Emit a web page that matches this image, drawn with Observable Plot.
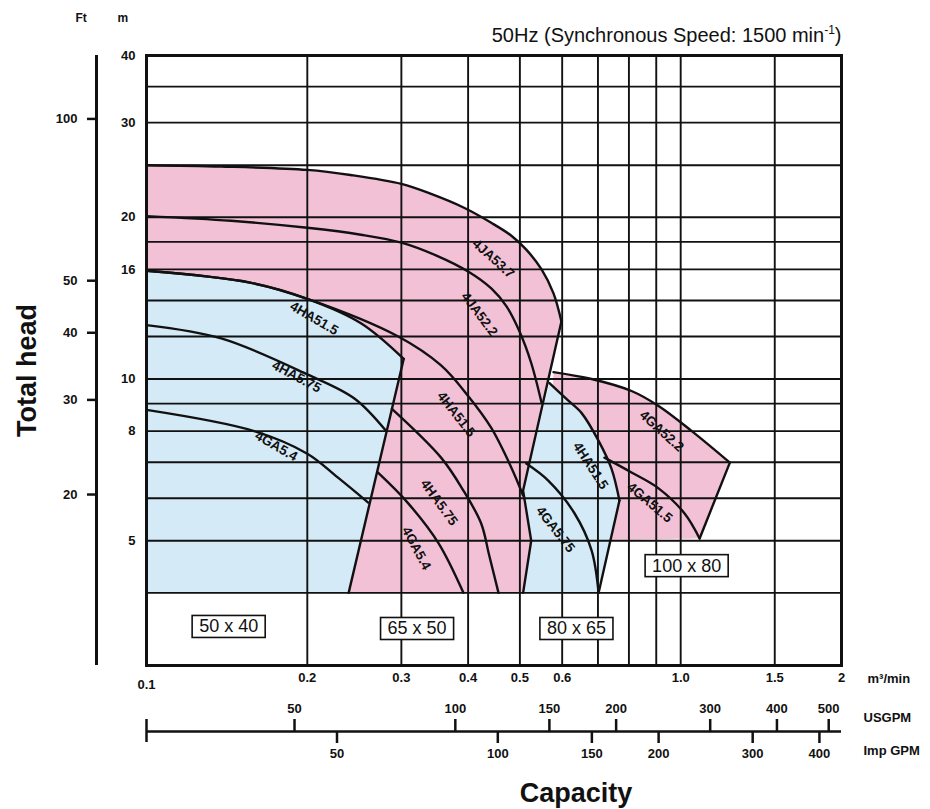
<!DOCTYPE html>
<html><head><meta charset="utf-8">
<script src="https://cdn.jsdelivr.net/npm/d3@7"></script>
<script src="https://cdn.jsdelivr.net/npm/@observablehq/plot@0.6"></script>
<style>html,body{margin:0;padding:0;background:#fff;}</style>
</head><body>
<div id="chart"></div>
<script>
// ---------- text ----------
const titleMain = "50Hz (Synchronous Speed: 1500 min";
const titleSup = "-1";
const yTitle = "Total head";
const xTitle = "Capacity";
const xUnit = "m³/min";
const usUnit = "USGPM";
const impUnit = "Imp GPM";
const ftHeader = "Ft";
const mHeader = "m";

// ---------- scales / ticks ----------
const mTicks = [40, 30, 20, 16, 10, 8, 5];
const hGrid = [4, 5, 6, 7, 8, 9, 10, 12, 14, 16, 18, 20, 25, 30, 35, 40];
const vGrid = [0.2, 0.3, 0.4, 0.5, 0.6, 0.7, 0.8, 0.9, 1.0, 1.5];
const xTicks = [0.2, 0.3, 0.4, 0.5, 0.6, 0.8, 1.0, 1.5, 2];
const xTickLabels = ["0.2", "0.3", "0.4", "0.5", "0.6", "0.8", "1.0", "1.5", "2"];
const ftTicks = [100, 50, 40, 30, 20];
const usgpmTicks = [50, 100, 150, 200, 300, 400, 500];
const impTicks = [50, 100, 150, 200, 300, 400];
const FT = 0.3048, US = 264.172, IMP = 219.969;

// ---------- performance curves [Q m3/min, H m] ----------
const c4JA537 = [[0.100,25.0],[0.138,24.86],[0.200,24.5],[0.241,23.97],[0.300,23.07],[0.341,22.1],[0.393,20.83],[0.442,19.53],[0.482,18.48],[0.514,17.41],[0.549,15.99],[0.578,14.43],[0.598,12.8]];
const c4JA522 = [[0.100,20.1],[0.144,19.7],[0.200,19.12],[0.252,18.56],[0.300,17.94],[0.349,16.97],[0.400,15.85],[0.442,14.74],[0.472,13.65],[0.499,12.27],[0.525,10.71],[0.549,9.03]];
const c4HA515a = [[0.100,15.9],[0.157,15.1],[0.200,14.1],[0.252,12.7],[0.303,10.9]];
const c4HA515b = [[0.100,15.9],[0.157,15.1],[0.200,14.1],[0.296,12.0],[0.356,10.6],[0.400,9.3],[0.442,8.11],[0.482,6.84],[0.507,6.07]];
const c4HA575a = [[0.100,12.6],[0.138,11.9],[0.200,10.2],[0.245,9.2],[0.281,8.0]];
const c4HA575b = [[0.288,8.8],[0.356,7.14],[0.392,6.2],[0.423,5.39],[0.438,4.70],[0.456,4.0]];
const c4GA54a = [[0.100,8.76],[0.159,8.0],[0.200,7.26],[0.228,6.56],[0.260,5.89]];
const c4GA54b = [[0.271,6.7],[0.309,5.87],[0.352,4.95],[0.392,4.0]];
const c4HA515c = [[0.568,9.83],[0.611,9.18],[0.652,8.65],[0.702,7.67],[0.742,6.81],[0.768,5.94]];
const c4GA575 = [[0.514,6.96],[0.565,6.47],[0.633,5.62],[0.681,4.80],[0.702,4.0]];
const c4GA522 = [[0.578,10.3],[0.681,10.0],[0.809,9.5],[0.909,8.91],[1.049,8.0],[1.236,6.99]];
const c4GA515 = [[0.720,7.14],[0.809,6.70],[0.909,6.26],[1.017,5.62],[1.085,5.05]];

// straight region edges
const edge50x40 = [[0.303,10.9],[0.239,4.0]];
const edge65x50 = [[0.598,12.8],[0.507,6.2],[0.525,5.0],[0.507,4.0]];
const edge80x65 = [[0.768,5.94],[0.702,4.0]];
const edge100x80 = [[1.236,6.99],[1.085,5.05]];
// region corners (after the top curve)
const corners65x50 = [[0.598,12.8],[0.507,6.2],[0.525,5.0],[0.507,4.0],[0.100,4.0]];
const corners50x40 = [[0.303,10.9],[0.239,4.0],[0.100,4.0]];
const corners100x80 = [[1.236,6.99],[1.085,5.05],[0.560,5.0]];
const corners80x65 = [[0.768,5.94],[0.702,4.0],[0.507,4.0],[0.525,5.0],[0.507,6.2]];

// curve labels
const labelNames = ["4JA53.7","4JA52.2","4HA51.5","4HA5.75","4GA5.4","4HA51.5","4HA5.75","4GA5.4","4HA51.5","4GA5.75","4GA52.2","4GA51.5"];
const labelQ = [0.446,0.420,0.206,0.191,0.175,0.380,0.353,0.320,0.678,0.583,0.921,0.875];
const labelH = [16.75,13.2,12.97,10.1,7.5,8.6,5.89,4.84,6.9,5.25,8.0,5.89];
const labelRot = [42,53,30,28,30,52,54,62,57,52,42,40];

// size boxes
const sizeNames = ["50 x 40","65 x 50","80 x 65","100 x 80"];
const sizeQ = [0.1425,0.321,0.638,1.026];
const sizeH = [3.46,3.43,3.43,4.49];

// ---------- helpers ----------
const rows = (pts, name) => pts.map(([q,h]) => ({q, h, name}));
const region = (curve, corners) => {
  const pts = [...curve];
  for (const c of corners) pts.push(c, c);
  return rows(pts, "r");
};
const curves = [
  ...rows(c4JA537,"a"),...rows(c4JA522,"b"),...rows(c4HA515a,"c"),...rows(c4HA515b,"d"),
  ...rows(c4HA575a,"e"),...rows(c4HA575b,"f"),...rows(c4GA54a,"g"),...rows(c4GA54b,"h"),
  ...rows(c4HA515c,"i"),...rows(c4GA575,"j"),...rows(c4GA522,"k"),...rows(c4GA515,"l")
];
const edges = [...rows(edge50x40,"e1"),...rows(edge65x50,"e2"),...rows(edge80x65,"e3"),...rows(edge100x80,"e4")];
const labels = labelNames.map((t,i)=>({t, q:labelQ[i], h:labelH[i], r:labelRot[i]}));
const sizes = sizeNames.map((t,i)=>({t, q:sizeQ[i], h:sizeH[i]}));
const xLabelMap = new Map(xTicks.map((d,i)=>[d, xTickLabels[i]]));
const none = () => "";

const pink = "#f3c1d6", blue = "#d5eaf7", ink = "#111";

const svg = Plot.plot({
  width: 930, height: 809,
  marginTop: 55, marginRight: 89, marginBottom: 144, marginLeft: 146,
  x: {type: "log", domain: [0.1, 2], axis: null, label: null},
  y: {type: "log", domain: [2.93, 40], axis: null, label: null},
  style: {fontFamily: "'Liberation Sans', Arial, sans-serif", fontSize: "13px", fontWeight: "bold", color: ink, background: "#fff", overflow: "visible"},
  marks: [
    Plot.line(region(c4JA537, corners65x50), {x: "q", y: "h", curve: "catmull-rom", fill: pink, stroke: "none"}),
    Plot.line(region(c4HA515a, corners50x40), {x: "q", y: "h", curve: "catmull-rom", fill: blue, stroke: "none"}),
    Plot.line(region(c4GA522, corners100x80), {x: "q", y: "h", curve: "catmull-rom", fill: pink, stroke: "none"}),
    Plot.line(region(c4HA515c, corners80x65), {x: "q", y: "h", curve: "catmull-rom", fill: blue, stroke: "none"}),
    Plot.ruleY(hGrid, {y: d => d, stroke: ink, strokeWidth: 1.9}),
    Plot.ruleX(vGrid, {x: d => d, stroke: ink, strokeWidth: 1.9}),
    Plot.line(curves, {x: "q", y: "h", z: "name", curve: "catmull-rom", stroke: ink, strokeWidth: 2.4}),
    Plot.line(edges, {x: "q", y: "h", z: "name", curve: "linear", stroke: ink, strokeWidth: 2.4}),
    Plot.frame({stroke: ink, strokeWidth: 3}),
    Plot.text(labels, {x: "q", y: "h", text: "t", rotate: "r", fontSize: 13.5, fontWeight: "bold", fill: ink}),
    Plot.text(sizes, {x: "q", y: "h", text: "t", fontSize: 18, fontWeight: "normal", fill: ink}),
    // m axis
    Plot.axisY(mTicks, {anchor: "left", label: null, tickSize: 0, tickPadding: 11, tickFormat: d => String(d), fontSize: 13}),
    // Ft axis
    Plot.ruleX([0.1], {x: d => d, dx: -50, stroke: ink, strokeWidth: 3}),
    Plot.axisY(ftTicks.map(f => f * FT), {anchor: "left", label: null, tickSize: 9, dx: -50, tickPadding: 10, strokeWidth: 2.5, tickFormat: d => String(Math.round(d / FT)), fontSize: 13}),
    Plot.text([ftHeader], {frameAnchor: "top-left", lineAnchor: "middle", dx: -71, dy: -37, text: d => d, fontSize: 12}),
    Plot.text([mHeader], {frameAnchor: "top-left", lineAnchor: "middle", dx: -29, dy: -37, text: d => d, fontSize: 12}),
    // x axis m3/min
    Plot.axisX(xTicks, {anchor: "bottom", label: null, tickSize: 0, tickPadding: 7, tickFormat: d => xLabelMap.get(d), fontSize: 13}),
    Plot.axisX([0.1], {anchor: "bottom", label: null, tickSize: 0, tickPadding: 14, tickFormat: d => "0.1", fontSize: 13}),
    Plot.text([xUnit], {frameAnchor: "bottom-right", lineAnchor: "middle", dx: 26, dy: 13, textAnchor: "start", text: d => d, fontSize: 13}),
    // flow scales
    Plot.ruleY([2.93], {y: d => d, dy: 66, stroke: ink, strokeWidth: 2.5}),
    Plot.axisX([0.1], {anchor: "bottom", label: null, tickSize: 23, dy: 54, tickFormat: none, strokeWidth: 2.5}),
    Plot.axisX(usgpmTicks.map(v => v / US), {anchor: "bottom", label: null, tickSize: 12, dy: 54, tickFormat: none, strokeWidth: 2.5}),
    Plot.axisX(impTicks.map(v => v / IMP), {anchor: "bottom", label: null, tickSize: 12, dy: 66, tickFormat: none, strokeWidth: 2.5}),
    Plot.text(usgpmTicks, {x: v => v / US, frameAnchor: "bottom", lineAnchor: "middle", dy: 43, text: d => String(d), fontSize: 13}),
    Plot.text(impTicks, {x: v => v / IMP, frameAnchor: "bottom", lineAnchor: "middle", dy: 88, text: d => String(d), fontSize: 13}),
    Plot.text([usUnit], {frameAnchor: "bottom-right", lineAnchor: "middle", dx: 22, dy: 52, textAnchor: "start", text: d => d, fontSize: 13}),
    Plot.text([impUnit], {frameAnchor: "bottom-right", lineAnchor: "middle", dx: 22, dy: 85, textAnchor: "start", text: d => d, fontSize: 13}),
    // titles
    Plot.text([xTitle], {frameAnchor: "bottom", lineAnchor: "middle", dx: 82, dy: 128, text: d => d, fontSize: 27, fontWeight: "bold"}),
    Plot.text([yTitle], {frameAnchor: "left", lineAnchor: "middle", textAnchor: "middle", dx: -119, dy: 10, rotate: -90, text: d => d, fontSize: 27, fontWeight: "bold"}),
    Plot.text([titleMain], {frameAnchor: "top-right", lineAnchor: "middle", dy: -20, textAnchor: "end", text: d => d, fontSize: 20, fontWeight: "normal"})
  ]
});
document.getElementById("chart").appendChild(svg);

// boxes around the pump size labels, superscript in title
const ns = "http://www.w3.org/2000/svg";
svg.querySelectorAll("text").forEach(t => {
  if (sizeNames.includes(t.textContent)) {
    const b = t.getBBox();
    const r = document.createElementNS(ns, "rect");
    r.setAttribute("x", b.x - 7); r.setAttribute("y", b.y - 1);
    r.setAttribute("width", b.width + 14); r.setAttribute("height", b.height + 2);
    r.setAttribute("fill", "#fff"); r.setAttribute("stroke", ink); r.setAttribute("stroke-width", 1.6);
    const tr = t.getAttribute("transform"); if (tr) r.setAttribute("transform", tr);
    t.parentNode.insertBefore(r, t);
  }
  if (t.textContent === titleMain) {
    const s = document.createElementNS(ns, "tspan");
    s.setAttribute("dy", "-8"); s.setAttribute("font-size", "12"); s.textContent = titleSup;
    const e = document.createElementNS(ns, "tspan");
    e.setAttribute("dy", "8"); e.textContent = ")";
    t.appendChild(s); t.appendChild(e);
  }
});
</script>
</body></html>
